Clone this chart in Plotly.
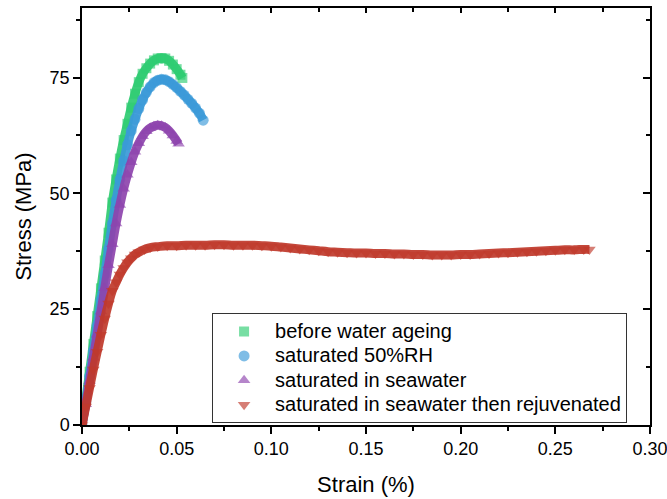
import plotly.graph_objects as go

# ---------------- data ----------------
names = ["before water ageing", "saturated 50%RH", "saturated in seawater",
         "saturated in seawater then rejuvenated"]

strain_dry = [0.000, 0.002, 0.004, 0.006, 0.008, 0.010, 0.012, 0.014, 0.016, 0.018,
              0.020, 0.022, 0.024, 0.026, 0.028, 0.030, 0.032, 0.034, 0.036, 0.038,
              0.040, 0.042, 0.044, 0.046, 0.048, 0.050, 0.052, 0.053]
stress_dry = [0.0, 5.5, 11.5, 17.5, 23.5, 29.5, 35.5, 41.5, 48.0, 53.0,
              57.5, 61.5, 65.0, 68.5, 71.5, 74.0, 75.8, 77.0, 78.0, 78.7,
              79.1, 79.2, 79.1, 78.6, 77.8, 76.8, 75.6, 74.9]

strain_rh = [0.000, 0.002, 0.004, 0.006, 0.008, 0.010, 0.012, 0.014, 0.016, 0.018,
             0.020, 0.022, 0.024, 0.026, 0.028, 0.030, 0.032, 0.034, 0.036, 0.038,
             0.040, 0.042, 0.044, 0.046, 0.048, 0.050, 0.052, 0.054, 0.056, 0.058,
             0.060, 0.062, 0.064]
stress_rh = [0.0, 5.0, 10.5, 16.0, 21.5, 27.0, 32.5, 38.0, 43.5, 48.5,
             53.0, 57.0, 60.5, 63.5, 66.0, 68.3, 70.2, 71.8, 73.0, 73.9,
             74.4, 74.6, 74.5, 74.1, 73.5, 72.8, 72.0, 71.2, 70.3, 69.4,
             68.4, 67.3, 65.8]

strain_sea = [0.000, 0.002, 0.004, 0.006, 0.008, 0.010, 0.012, 0.014, 0.016, 0.018,
              0.020, 0.022, 0.024, 0.026, 0.028, 0.030, 0.032, 0.034, 0.036, 0.038,
              0.040, 0.042, 0.044, 0.046, 0.048, 0.050, 0.051]
stress_sea = [0.0, 4.5, 9.5, 14.5, 19.5, 24.5, 29.5, 34.5, 39.0, 43.5,
              47.5, 51.0, 54.0, 56.7, 59.0, 60.8, 62.3, 63.4, 64.1, 64.5,
              64.7, 64.6, 64.2, 63.5, 62.5, 61.3, 60.7]

strain_rej = [0.000, 0.002, 0.004, 0.006, 0.008, 0.010, 0.012, 0.014, 0.016, 0.018,
              0.020, 0.022, 0.024, 0.026, 0.028, 0.030, 0.033, 0.036, 0.040, 0.045,
              0.050, 0.055, 0.060, 0.065, 0.070, 0.075, 0.080, 0.085, 0.090, 0.095,
              0.100, 0.105, 0.110, 0.115, 0.120, 0.125, 0.130, 0.135, 0.140, 0.145,
              0.150, 0.155, 0.160, 0.165, 0.170, 0.175, 0.180, 0.185, 0.190, 0.195,
              0.200, 0.205, 0.210, 0.215, 0.220, 0.225, 0.230, 0.235, 0.240, 0.245,
              0.250, 0.255, 0.260, 0.265, 0.268]
stress_rej = [0.0, 4.0, 8.0, 12.0, 15.8, 19.5, 23.0, 26.2, 29.0, 30.8,
              32.5, 33.9, 35.1, 36.0, 36.8, 37.3, 37.9, 38.3, 38.5, 38.7,
              38.7, 38.8, 38.8, 38.8, 38.9, 38.9, 38.8, 38.8, 38.8, 38.7,
              38.6, 38.4, 38.2, 38.0, 37.8, 37.6, 37.4, 37.3, 37.2, 37.1,
              37.1, 37.0, 37.0, 36.9, 36.9, 36.8, 36.8, 36.7, 36.7, 36.7,
              36.8, 36.8, 36.9, 37.0, 37.1, 37.2, 37.3, 37.4, 37.5, 37.6,
              37.7, 37.8, 37.8, 37.9, 37.9]

x_tick_vals = [0.00, 0.05, 0.10, 0.15, 0.20, 0.25, 0.30]
x_tick_text = ["0.00", "0.05", "0.10", "0.15", "0.20", "0.25", "0.30"]
y_tick_vals = [0, 25, 50, 75]

# ---------------- styling ----------------
colors = ["#2ECC71", "#3A9AD9", "#8E44AD", "#C0392B"]
symbols = ["square", "circle", "triangle-up", "triangle-down"]
sizes = [10, 11, 11, 11]
series = [(strain_dry, stress_dry), (strain_rh, stress_rh),
          (strain_sea, stress_sea), (strain_rej, stress_rej)]

fig = go.Figure()
for (xs, ys), name, c, s, sz in zip(series, names, colors, symbols, sizes):
    fig.add_trace(go.Scatter(x=xs, y=ys, mode="lines", line=dict(color=c, width=9, shape="spline"),
                             opacity=0.92, showlegend=False, hoverinfo="skip"))
    fig.add_trace(go.Scatter(x=xs, y=ys, mode="markers",
                             name="<span style='font-size:20px'>" + name + "</span>",
                             marker=dict(symbol=s, size=sz, color=c, opacity=0.65,
                                         line=dict(width=0))))

# invisible trace so the mirrored tick axes exist
fig.add_trace(go.Scatter(x=[], y=[], xaxis="x2", yaxis="y2", showlegend=False))

XR = [0, 0.3000001]
font_family = "Liberation Sans, Arial, sans-serif"
fig.update_layout(
    width=667, height=499,
    margin=dict(l=82, r=17, t=8, b=74, autoexpand=False),
    paper_bgcolor="white", plot_bgcolor="white",
    font=dict(family=font_family, color="black", size=18),
    xaxis=dict(range=XR, tickvals=x_tick_vals, ticktext=x_tick_text,
               ticklabeloverflow="allow", automargin=False,
               ticks="outside", ticklen=7, tickwidth=1.5, tickcolor="black",
               minor=dict(dtick=0.025, tick0=0, ticks="outside", ticklen=4,
                          tickwidth=1.5, tickcolor="black"),
               showline=True, linecolor="black", linewidth=1.5, mirror=True,
               showgrid=False, zeroline=False,
               tickfont=dict(size=18),
               title=dict(text="Strain (%)", font=dict(size=22), standoff=18)),
    yaxis=dict(range=[0, 90], tickvals=y_tick_vals, automargin=False,
               ticks="outside", ticklen=7, tickwidth=1.5, tickcolor="black",
               minor=dict(dtick=12.5, tick0=0, ticks="outside", ticklen=4,
                          tickwidth=1.5, tickcolor="black"),
               showline=True, linecolor="black", linewidth=1.5, mirror=True,
               showgrid=False, zeroline=False,
               tickfont=dict(size=18),
               title=dict(text="Stress (MPa)", font=dict(size=22), standoff=12)),
    xaxis2=dict(range=XR, overlaying="x", side="top", anchor="y", automargin=False,
                tickvals=x_tick_vals, showticklabels=False,
                ticks="inside", ticklen=5, tickwidth=1.5, tickcolor="black",
                minor=dict(dtick=0.025, tick0=0, ticks="inside", ticklen=4,
                           tickwidth=1.5, tickcolor="black"),
                showline=False, showgrid=False, zeroline=False),
    yaxis2=dict(range=[0, 90], overlaying="y", side="right", anchor="x", automargin=False,
                tickvals=y_tick_vals, showticklabels=False,
                ticks="inside", ticklen=7, tickwidth=1.5, tickcolor="black",
                minor=dict(dtick=12.5, tick0=0, ticks="inside", ticklen=4,
                           tickwidth=1.5, tickcolor="black"),
                showline=False, showgrid=False, zeroline=False),
    legend=dict(x=0.229, y=0.268, xanchor="left", yanchor="top",
                bgcolor="white", bordercolor="#333333", borderwidth=1,
                font=dict(size=16.5, family=font_family), tracegroupgap=0,
                itemsizing="trace", itemwidth=52),
    showlegend=True,
)

fig.write_html("out.html", config={"displayModeBar": False},
               post_script="document.body.style.margin='0px';document.body.style.padding='0px';")
